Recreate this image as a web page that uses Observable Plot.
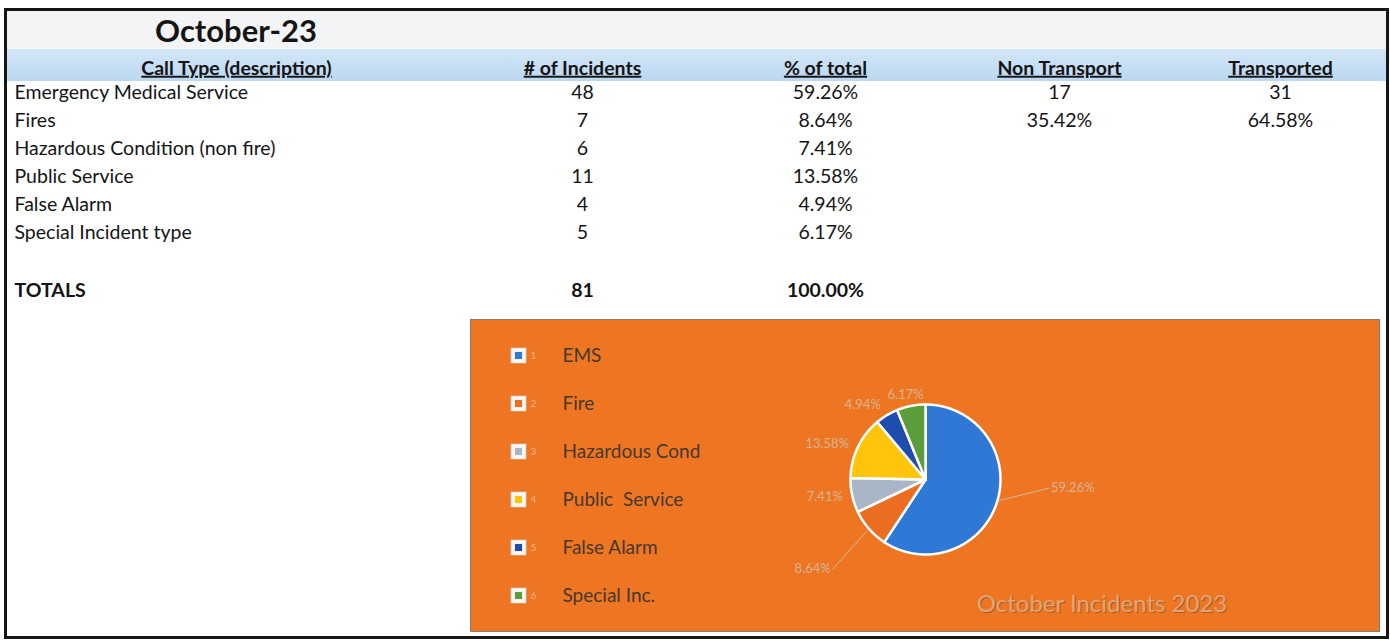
<!DOCTYPE html>
<html><head><meta charset="utf-8">
<script src="https://cdn.jsdelivr.net/npm/d3@7"></script>
<script src="https://cdn.jsdelivr.net/npm/@observablehq/plot@0.6"></script>
<style>
body{margin:0;background:#fff;}
#wrap{position:relative;width:1390px;height:641px;overflow:hidden;font-family:Lato,"Open Sans",sans-serif;color:#141414;}
.abs{position:absolute;}
#frame{left:4px;top:8px;width:1385px;height:631px;border:3px solid #161616;box-sizing:border-box;}
#topband{left:7px;top:11px;width:1379px;height:38px;background:#f3f4f6;}
#hdrband{left:7px;top:49px;width:1379px;height:32px;background:linear-gradient(#d3e6f7,#bcd8f1);}
#title{left:10px;top:12px;width:452px;text-align:center;font-weight:bold;font-size:31px;line-height:36px;}
#panel{left:470px;top:319px;width:910px;height:313px;background:#ee7623;border:1px solid #8a7a70;box-sizing:border-box;}
#charttitle{left:0;top:268px;width:1262px;text-align:center;font-size:24px;color:#dba67a;text-shadow:1px 1px 0 rgba(110,55,20,.45);}
.col{position:absolute;top:0;}
svg{max-width:none !important;}
.col svg, #panel svg{background:transparent;overflow:visible;}
</style></head><body><div id="wrap">
<div id="topband" class="abs"></div>
<div id="hdrband" class="abs"></div>
<div id="frame" class="abs"></div>
<div id="title" class="abs"></div>
<div id="panel" class="abs"><div id="charttitle" class="abs"></div></div>
</div>
<script>
// ---- data ----
const sheetTitle = "October-23";
const headers = ["Call Type (description)", "# of Incidents", "% of total", "Non Transport", "Transported"];
const callTypes = ["Emergency Medical Service", "Fires", "Hazardous Condition (non fire)", "Public Service", "False Alarm", "Special Incident type"];
const incidents = [48, 7, 6, 11, 4, 5];
const pctTotal = ["59.26%", "8.64%", "7.41%", "13.58%", "4.94%", "6.17%"];
const nonTransport = ["17", "35.42%"];
const transported = ["31", "64.58%"];
const totalsLabel = "TOTALS";
const totalIncidents = "81";
const totalPct = "100.00%";
const legendNames = ["EMS", "Fire", "Hazardous Cond", "Public  Service", "False Alarm", "Special Inc."];
const sliceColors = ["#2f78d6", "#ea6d22", "#a9b6c7", "#ffc50a", "#1f4caf", "#5b9d3a"];
const chartTitle = "October Incidents 2023";

// ---- layout (not data) ----
const FONT = "Lato, 'Open Sans', sans-serif";
const colBoxes = [[10, 452], [462, 240], [702, 246], [948, 222], [1170, 220]]; // [left, width]
const rowKeys = ["hdr", "0", "1", "2", "3", "4", "5", "blank", "tot"];
const R = 75; // pie radius px
const pieCenter = [454, 159]; // inside panel
const callouts = {0: {r: 1.65, angle: 94, anchor: "start"}, 1: {r: 1.72, angle: 226, anchor: "end"}};

document.getElementById("title").textContent = sheetTitle;
document.getElementById("charttitle").textContent = chartTitle;

const wrap = document.getElementById("wrap");

function colPlot(i, marks) {
  const [left, width] = colBoxes[i];
  const p = Plot.plot({
    width, height: 300, marginLeft: 0, marginRight: 0, marginTop: 64, marginBottom: 12,
    style: {fontFamily: FONT, fontSize: "19.5px", background: "transparent", color: "#141414"},
    y: {type: "point", domain: rowKeys, padding: 0, axis: null},
    x: {axis: null},
    marks
  });
  const d = document.createElement("div");
  d.className = "col";
  d.style.left = left + "px";
  d.style.width = width + "px";
  d.style.height = "300px";
  d.appendChild(p);
  wrap.appendChild(d);
  d3.select(p).selectAll("text").filter(function() { return headers.includes(this.textContent); })
    .style("text-decoration", "underline");
  return p;
}

const hdr = (i) => Plot.text([{key: "hdr", t: headers[i]}], {y: "key", text: "t", frameAnchor: "middle", fontWeight: "bold", fontSize: 19.5, dy: 4});
const rows = callTypes.map((t, i) => ({key: String(i), type: t, n: String(incidents[i]), pct: pctTotal[i], non: nonTransport[i], tr: transported[i]}));

colPlot(0, [
  hdr(0),
  Plot.text(rows, {y: "key", text: "type", frameAnchor: "left", textAnchor: "start", dx: 4}),
  Plot.text([{key: "tot", t: totalsLabel}], {y: "key", text: "t", frameAnchor: "left", textAnchor: "start", dx: 4, dy: 2, fontWeight: "bold"})
]);
colPlot(1, [
  hdr(1),
  Plot.text(rows, {y: "key", text: "n", frameAnchor: "middle"}),
  Plot.text([{key: "tot", t: totalIncidents}], {y: "key", text: "t", frameAnchor: "middle", dy: 2, fontWeight: "bold"})
]);
colPlot(2, [
  hdr(2),
  Plot.text(rows, {y: "key", text: "pct", frameAnchor: "middle"}),
  Plot.text([{key: "tot", t: totalPct}], {y: "key", text: "t", frameAnchor: "middle", dy: 2, fontWeight: "bold"})
]);
colPlot(3, [
  hdr(3),
  Plot.text(rows.filter(d => d.non !== undefined), {y: "key", text: "non", frameAnchor: "middle"})
]);
colPlot(4, [
  hdr(4),
  Plot.text(rows.filter(d => d.tr !== undefined), {y: "key", text: "tr", frameAnchor: "middle"})
]);

// ---- pie ----
const panel = document.getElementById("panel");
const PW = 908, PH = 311;
const colorScale = {domain: legendNames, range: sliceColors};
const arcs = d3.pie().sort(null)(incidents);
const polyPts = [];
arcs.forEach((a, i) => {
  const name = legendNames[i];
  polyPts.push({name, x: 0, y: 0});
  const steps = Math.max(2, Math.ceil((a.endAngle - a.startAngle) / 0.01));
  for (let k = 0; k <= steps; k++) {
    const t = a.startAngle + (a.endAngle - a.startAngle) * k / steps;
    polyPts.push({name, x: Math.sin(t), y: Math.cos(t)});
  }
});
const labels = arcs.map((a, i) => {
  const mid = (a.startAngle + a.endAngle) / 2;
  const s = Math.sin(mid), c = Math.cos(mid);
  if (callouts[i]) {
    const co = callouts[i], ang = co.angle * Math.PI / 180;
    return {text: pctTotal[i], x: co.r * Math.sin(ang), y: co.r * Math.cos(ang), anchor: co.anchor, line: "middle",
            x0: s, y0: c, leader: true};
  }
  const rr = 1.1;
  return {text: pctTotal[i], x: rr * s, y: rr * c,
          anchor: s > 0.3 ? "start" : s < -0.3 ? "end" : "middle",
          line: c > 0.5 ? "bottom" : c < -0.5 ? "top" : "middle", leader: false};
});
const leaders = labels.filter(d => d.leader);
const labelMarks = ["start", "end", "middle"].flatMap(anchor => ["bottom", "top", "middle"].map(line =>
  Plot.text(labels.filter(d => d.anchor === anchor && d.line === line), {x: "x", y: "y", text: "text", textAnchor: anchor, lineAnchor: line,
    dx: anchor === "start" ? 2 : anchor === "end" ? -2 : -4, fontSize: 13, fill: "#d6b493"})));

const piePlot = Plot.plot({
  width: PW, height: PH, margin: 0,
  style: {fontFamily: FONT, background: "transparent"},
  x: {domain: [-pieCenter[0] / R, (PW - pieCenter[0]) / R], axis: null},
  y: {domain: [-(PH - pieCenter[1]) / R, pieCenter[1] / R], axis: null},
  color: colorScale,
  marks: [
    Plot.line(polyPts, {x: "x", y: "y", z: "name", fill: "name", stroke: "white", strokeWidth: 2.5, strokeLinejoin: "round", curve: "linear-closed"}),
    Plot.link(leaders, {x1: "x0", y1: "y0", x2: "x", y2: "y", stroke: "#dcb896", strokeWidth: 1}),
    ...labelMarks
  ]
});
piePlot.style.position = "absolute"; piePlot.style.left = "0px"; piePlot.style.top = "0px";
panel.appendChild(piePlot);

// ---- legend ----
const legendRows = legendNames.map((name, i) => ({name, num: String(i + 1)}));
const legendPlot = Plot.plot({
  width: 300, height: PH, marginLeft: 0, marginRight: 0, marginTop: 35, marginBottom: 36,
  style: {fontFamily: FONT, background: "transparent"},
  y: {type: "point", domain: legendNames, padding: 0, axis: null},
  x: {axis: null},
  color: colorScale,
  marks: [
    Plot.dot(legendRows, {y: "name", frameAnchor: "left", dx: 47, symbol: "square", r: 8.6, fill: "#fbf7f3", stroke: "#c9b8a8", strokeWidth: 0.5}),
    Plot.dot(legendRows, {y: "name", frameAnchor: "left", dx: 47, symbol: "square", r: 4, fill: "name"}),
    Plot.text(legendRows, {y: "name", text: "num", frameAnchor: "left", textAnchor: "start", dx: 59, fontSize: 10, fill: "#f2b086"}),
    Plot.text(legendRows, {y: "name", text: "name", frameAnchor: "left", textAnchor: "start", dx: 91, fontSize: 19, fill: "#45382f"})
  ]
});
legendPlot.style.position = "absolute"; legendPlot.style.left = "0px"; legendPlot.style.top = "0px";
panel.appendChild(legendPlot);
</script></body></html>
